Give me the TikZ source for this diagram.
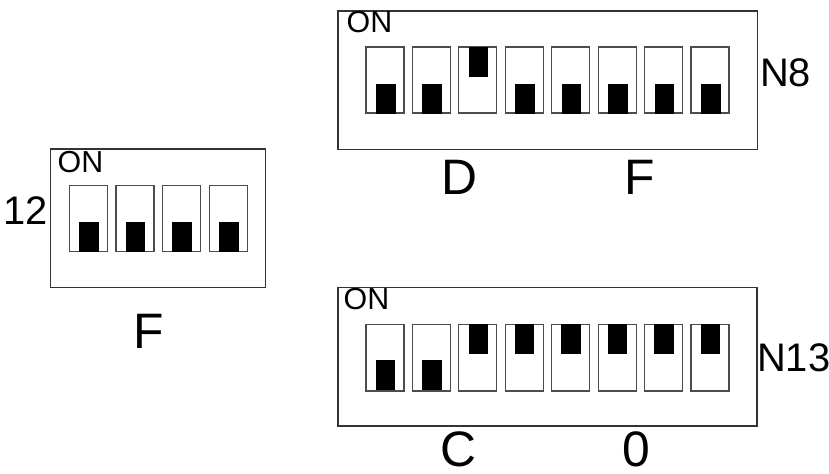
\documentclass[tikz,border=0pt]{standalone}
\usepackage{fontspec}
\setmainfont{Liberation Sans}
\begin{document}
\begin{tikzpicture}[x=1bp,y=-1bp,
  frame/.style={draw=black!80,line width=1.2bp,inner sep=0,outer sep=0,anchor=north west},
  sw/.style={draw=black!70,line width=1.1bp,inner sep=0,outer sep=0,anchor=north west,minimum width=38bp,minimum height=66bp},
  knob/.style={fill=black,inner sep=0,outer sep=0,anchor=north west,minimum width=19.5bp,minimum height=30bp},
  ontxt/.style={inner sep=0,anchor=base west,font=\fontsize{30.5}{30.5}\selectfont},
  side/.style={inner sep=0,font=\fontsize{40}{40}\selectfont},
  code/.style={inner sep=0,anchor=base,font=\fontsize{50}{50}\selectfont}]
\fill[white] (0,0) rectangle (829,474);
\useasboundingbox (0,0) rectangle (829,474);
% top module N8
\node[frame,minimum width=419.7bp,minimum height=138.5bp] (topbox) at (338,11) {};
\foreach \i/\yy in {0/84,1/84,2/47,3/84,4/84,5/84,6/84,7/84} {
  \node[sw] (ts\i) at ({366+46.43*\i},47) {};
  \node[knob] (tk\i) at ({376+46.43*\i},\yy) {};
}
\node[ontxt] (ton) at (346.5,33) {ON};
\node[side,anchor=base west] (tn) at (760,87) {N8};
\node[code] (td) at (459,195) {D};
\node[code] (tf) at (640,195) {F};
% left module 12
\node[frame,minimum width=215bp,minimum height=138.7bp] (leftbox) at (50.7,149) {};
\foreach \i in {0,1,2,3} {
  \node[sw] (ls\i) at ({69.3+46.7*\i},185.7) {};
  \node[knob] (lk\i) at ({79+46.7*\i},222) {};
}
\node[ontxt] (lon) at (57.5,173) {ON};
\node[side,anchor=base east] (ln) at (48,225) {12};
\node[code] (lf) at (149,349) {F};
% bottom module N13
\node[frame,minimum width=419bp,minimum height=138.7bp] (botbox) at (338,287.3) {};
\foreach \i/\yy in {0/360,1/360,2/324.3,3/324.3,4/324.3,5/324.3,6/324.3,7/324.3} {
  \node[sw,minimum height=66.7bp] (bs\i) at ({366+46.43*\i},324.3) {};
  \node[knob] (bk\i) at ({375.7+46.43*\i},\yy) {};
}
\node[ontxt] (bon) at (343.5,310) {ON};
\node[side,anchor=base west] (bn) at (757,371.7) {N13};
\node[code] (bc) at (458,466) {C};
\node[code] (bz) at (636.5,466) {0};
\end{tikzpicture}
\end{document}
